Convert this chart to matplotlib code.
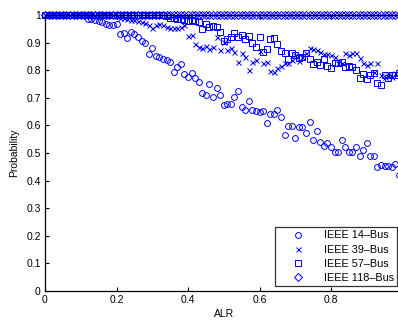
import matplotlib
matplotlib.use("Agg")
import matplotlib.pyplot as plt
import numpy as np

plt.rcParams['font.family'] = ['Liberation Sans', 'DejaVu Sans']

alr = [k / 100 for k in range(100)]

bus14 = [1.0] * 12 + [
    0.985, 0.984, 0.981, 0.977, 0.973, 0.968, 0.962, 0.965, 0.967, 0.930,
    0.935, 0.915, 0.938, 0.930, 0.922, 0.905, 0.897, 0.860, 0.880, 0.850,
    0.848, 0.842, 0.838, 0.830, 0.795, 0.812, 0.822, 0.785, 0.776, 0.790,
    0.770, 0.757, 0.717, 0.710, 0.750, 0.703, 0.735, 0.710, 0.674, 0.677,
    0.677, 0.703, 0.725, 0.667, 0.656, 0.690, 0.656, 0.652, 0.648, 0.652,
    0.609, 0.641, 0.641, 0.656, 0.630, 0.565, 0.598, 0.598, 0.554, 0.594,
    0.594, 0.572, 0.612, 0.547, 0.580, 0.540, 0.525, 0.536, 0.522, 0.504,
    0.504, 0.547, 0.522, 0.504, 0.504, 0.522, 0.489, 0.511, 0.536, 0.489,
    0.489, 0.449, 0.457, 0.453, 0.453, 0.449, 0.460, 0.420]

bus39 = [1.0] * 20 + [
    0.995, 0.990, 0.990, 0.985, 0.982, 0.982, 0.978, 0.975, 0.970, 0.965,
    0.953, 0.962, 0.966, 0.962, 0.955, 0.953, 0.953, 0.953, 0.955, 0.962,
    0.925, 0.927, 0.895, 0.885, 0.880, 0.887, 0.878, 0.884, 0.920, 0.873,
    0.902, 0.873, 0.880, 0.866, 0.830, 0.862, 0.848, 0.800, 0.830, 0.837,
    0.870, 0.826, 0.830, 0.797, 0.793, 0.808, 0.815, 0.826, 0.826, 0.837,
    0.855, 0.833, 0.848, 0.862, 0.882, 0.877, 0.873, 0.866, 0.859, 0.859,
    0.855, 0.849, 0.826, 0.826, 0.862, 0.855, 0.862, 0.862, 0.844, 0.826,
    0.819, 0.826, 0.793, 0.826, 0.783, 0.775, 0.783, 0.775, 0.790, 0.810]

bus57 = [1.0] * 34 + [
    0.995, 0.990, 0.990, 0.985, 0.985, 0.982, 0.980, 0.982, 0.980, 0.975,
    0.949, 0.967, 0.957, 0.960, 0.957, 0.940, 0.906, 0.913, 0.920, 0.935,
    0.920, 0.927, 0.913, 0.924, 0.899, 0.884, 0.920, 0.866, 0.877, 0.913,
    0.917, 0.895, 0.870, 0.862, 0.840, 0.862, 0.855, 0.844, 0.848, 0.862,
    0.840, 0.822, 0.830, 0.819, 0.840, 0.815, 0.808, 0.826, 0.826, 0.830,
    0.812, 0.815, 0.812, 0.800, 0.772, 0.786, 0.768, 0.783, 0.790, 0.754,
    0.746, 0.783, 0.772, 0.783, 0.783, 0.790]

bus118 = [1.0] * 100

labels = ['IEEE 14\u2013Bus', 'IEEE 39\u2013Bus', 'IEEE 57\u2013Bus', 'IEEE 118\u2013Bus']
xtick_vals = [0, 0.2, 0.4, 0.6, 0.8]
xtick_labels = ['0', '0.2', '0.4', '0.6', '0.8']
ytick_vals = [i / 10 for i in range(11)]
ytick_labels = ['0', '0.1', '0.2', '0.3', '0.4', '0.5', '0.6', '0.7', '0.8', '0.9', '1']

W, H = 398, 322
fig = plt.figure(figsize=(W / 100, H / 100), dpi=100)
ax = fig.add_axes([45 / W, (H - 291) / H, 357.5 / W, 276 / H])

blue = '#0000ff'
common = dict(linestyle='none', color=blue, markerfacecolor='none', clip_on=False)
ax.plot(alr, bus14, marker='o', markersize=4.2, markeredgewidth=0.7, label=labels[0], **common)
ax.plot(alr, bus39, marker='x', markersize=3.6, markeredgewidth=0.7, label=labels[1], **common)
ax.plot(alr, bus57, marker='s', markersize=3.8, markeredgewidth=0.7, label=labels[2], **common)
ax.plot(alr, bus118, marker='D', markersize=3.6, markeredgewidth=0.7, label=labels[3], **common)

ax.set_xlim(0, 1)
ax.set_ylim(0, 1)
ax.set_xticks(xtick_vals)
ax.set_xticklabels(xtick_labels)
ax.set_yticks(ytick_vals)
ax.set_yticklabels(ytick_labels)
ax.tick_params(direction='in', length=3, width=0.8, labelsize=7.5, top=True, right=True, pad=3)
for s in ax.spines.values():
    s.set_linewidth(0.9)

ax.set_xlabel('ALR', fontsize=7.5, labelpad=3)
ax.set_ylabel('Probability', fontsize=7.5, labelpad=5)

leg = ax.legend(loc='lower right', bbox_to_anchor=(397 / W, (H - 286) / H),
                bbox_transform=fig.transFigure, fontsize=7.8, frameon=True,
                fancybox=False, borderaxespad=0, handlelength=3.6,
                handletextpad=0.6, labelspacing=0.38, borderpad=0.3,
                markerscale=1.0)
leg.get_frame().set_edgecolor('black')
leg.get_frame().set_linewidth(0.9)

fig.savefig('out.png', dpi=100)
